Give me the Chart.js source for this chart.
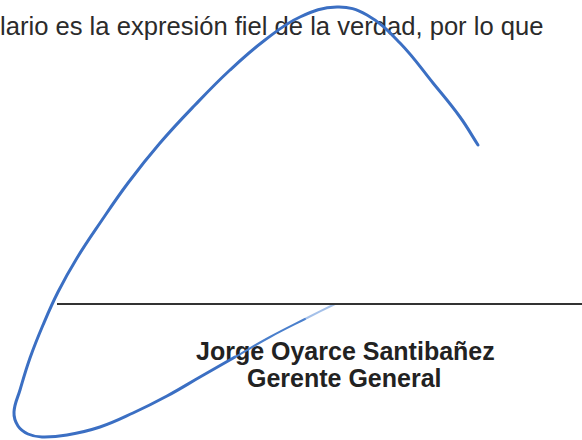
<!DOCTYPE html>
<html>
<head>
<meta charset="utf-8">
<script src="https://cdn.jsdelivr.net/npm/chart.js@4.4.1/dist/chart.umd.min.js"></script>
<style>
  html, body { margin: 0; padding: 0; background: #fff; }
  #wrap { position: relative; width: 582px; height: 440px; overflow: hidden; }
  #sig { position: absolute; left: 0; top: 0; z-index: 2; }
  .txt {
    position: absolute; white-space: nowrap; line-height: 1;
    font-family: "Liberation Sans", Arial, sans-serif; color: #2b2b2b; z-index: 1;
  }
  #line1 { left: 0; top: 14px; font-size: 25.6px; }
  #name { left: 196px; top: 339px; font-size: 25px; font-weight: bold; color: #222; }
  #role { left: 247px; top: 366px; font-size: 25px; font-weight: bold; color: #222; }
</style>
</head>
<body>
<div id="wrap">
  <div class="txt" id="line1"></div>
  <div class="txt" id="name"></div>
  <div class="txt" id="role"></div>
  <canvas id="sig" width="582" height="440"></canvas>
</div>
<script>
// Texts
const bodyText = 'lario es la expresión fiel de la verdad, por lo que';
const signerName = 'Jorge Oyarce Santibañez';
const signerRole = 'Gerente General';

// Signature stroke, traced from the right end going round the loop
const sigX = [478, 460, 433, 400, 367, 337, 300, 265, 230, 195, 160, 128, 100, 77, 58, 43, 30, 20, 14, 18, 28, 42, 67, 100, 133, 167, 200, 235, 270, 305, 335];
const sigY = [145, 117, 83, 43, 15, 7, 17, 40, 70, 105, 143, 183, 223, 258, 292, 325, 358, 390, 412, 426, 434, 437, 435, 427, 413, 396, 377, 357, 337, 319, 304];

// Signature rule
const ruleX = [57, 582];
const ruleY = [304, 304];

document.getElementById('line1').innerText = bodyText;
document.getElementById('name').innerText = signerName;
document.getElementById('role').innerText = signerRole;

const toPoints = (xs, ys) => xs.map((x, i) => ({ x: x, y: ys[i] }));
const tailStart = sigX.length - 4;

const ctx = document.getElementById('sig').getContext('2d');
new Chart(ctx, {
    type: 'scatter',
    data: {
        datasets: [{
            data: toPoints(ruleX, ruleY),
            showLine: true,
            borderColor: '#333333',
            borderWidth: 2,
            pointRadius: 0,
            tension: 0
        }, {
            data: toPoints(sigX, sigY),
            showLine: true,
            borderColor: '#3b6fc3',
            borderWidth: 3,
            borderCapStyle: 'round',
            borderJoinStyle: 'round',
            pointRadius: 0,
            tension: 0.4,
            segment: {
                // the pen lifts off at the end of the lower stroke
                borderColor: c => c.p0DataIndex >= tailStart + 2 ? 'rgba(90,140,215,0.55)' :
                    (c.p0DataIndex >= tailStart ? '#4a7fcc' : undefined),
                borderWidth: c => c.p0DataIndex >= tailStart ? 2 : undefined
            }
        }]
    },
    options: {
        responsive: false,
        animation: false,
        layout: { padding: 0 },
        plugins: { legend: { display: false }, tooltip: { enabled: false } },
        scales: {
            x: { type: 'linear', display: false, min: 0, max: 582 },
            y: { type: 'linear', display: false, min: 0, max: 440, reverse: true }
        }
    }
});
</script>
</body>
</html>
